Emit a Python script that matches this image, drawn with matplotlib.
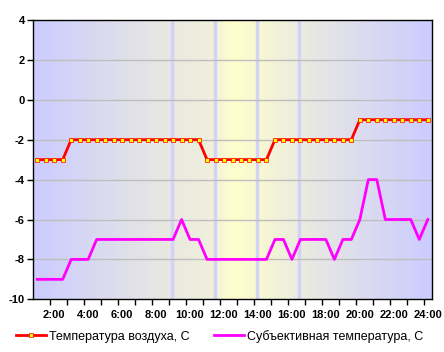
import numpy as np
import matplotlib.pyplot as plt
from matplotlib.colors import LinearSegmentedColormap

plt.rcParams['font.family'] = ['Liberation Sans', 'DejaVu Sans']
plt.rcParams['axes.unicode_minus'] = False

# half-hour readings from 1:00 to 24:00
hours = np.arange(1.0, 24.01, 0.5)
air_temp = [-3, -3, -3, -3,
            -2, -2, -2, -2, -2, -2, -2, -2, -2, -2, -2, -2, -2, -2, -2, -2,
            -3, -3, -3, -3, -3, -3, -3, -3,
            -2, -2, -2, -2, -2, -2, -2, -2, -2, -2,
            -1, -1, -1, -1, -1, -1, -1, -1, -1]
felt_temp = [-9, -9, -9, -9,
             -8, -8, -8,
             -7, -7, -7, -7, -7, -7, -7, -7, -7, -7,
             -6, -7, -7,
             -8, -8, -8, -8, -8, -8, -8, -8,
             -7, -7, -8, -7, -7, -7, -7, -8, -7, -7,
             -6, -4, -4, -6, -6, -6, -6, -7, -6]
tick_hours = list(range(2, 25, 2))
tick_labels = ['%d:00' % h for h in tick_hours]
stripe_hours = [8.94, 11.47, 13.96, 16.42]

fig = plt.figure(figsize=(4.44, 3.52), dpi=100)
ax = fig.add_axes([33 / 444, 1 - 299.3 / 352, 399 / 444, 279.3 / 352])

x0, x1 = 0.75, 24.25
# background gradient: lavender at edges, yellow in the middle
stops = [(0.0, '#ccccff'), (0.33, '#e8e8e2'), (0.45, '#f0f0dc'),
         (0.5, '#ffffcc'), (0.58, '#f6f6d6'), (0.72, '#e6e6e6'), (1.0, '#ccccff')]
cmap = LinearSegmentedColormap.from_list('bg', stops)
ax.imshow(np.linspace(0, 1, 400)[None, :], cmap=cmap, aspect='auto',
          extent=[x0, x1, -10, 4], zorder=0)
for h in stripe_hours:
    ax.axvline(h, color='#d2d2f6', lw=2.5, zorder=1)

for y in range(-8, 4, 2):
    ax.axhline(y, color='#bebebe', lw=1, zorder=2)

ax.plot(hours, air_temp, color='#ff0000', lw=2, marker='s', ms=2.2,
        mfc='#ffff00', mec='#ff0000', mew=0.5, zorder=4,
        label='Температура воздуха, С')
ax.plot(hours, felt_temp, color='#ff00ff', lw=2, zorder=3,
        label='Субъективная температура, С')

ax.set_xlim(x0, x1)
ax.set_ylim(-10, 4)
ax.set_yticks(range(-10, 5, 2))
ax.set_xticks(tick_hours)
ax.set_xticklabels(tick_labels)
ax.set_xticks(np.arange(1.75, 24, 1.0), minor=True)
ax.tick_params(axis='x', which='major', length=0, pad=8)
ax.tick_params(axis='x', which='minor', length=4, width=1, direction='out')
ax.tick_params(axis='y', length=4, width=1, direction='out', pad=2)
for lbl in ax.get_xticklabels() + ax.get_yticklabels():
    lbl.set_fontweight('bold')
    lbl.set_fontsize(8)
for sp in ax.spines.values():
    sp.set_color('black')
    sp.set_linewidth(1)

fig.legend(loc='lower center', bbox_to_anchor=(0.495, -0.005), ncol=2,
           frameon=False, fontsize=9, handlelength=2.4, handletextpad=0.2,
           columnspacing=2.0)

fig.savefig('out.png', dpi=100)
